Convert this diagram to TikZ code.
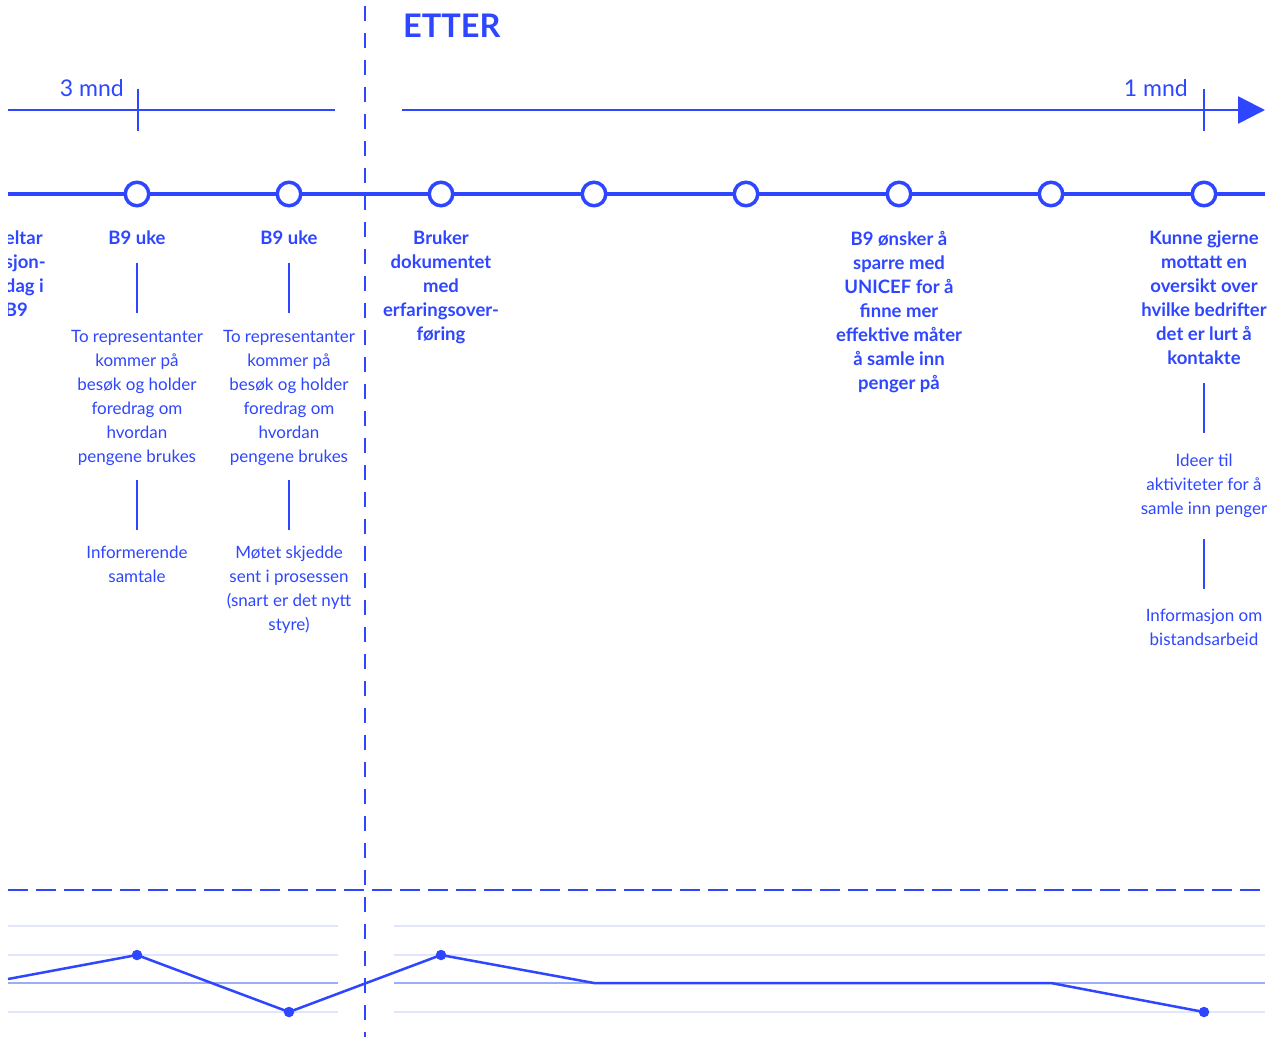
\documentclass[tikz,border=0pt]{standalone}
\usepackage{fontspec}
\setmainfont{Lato}
\usetikzlibrary{arrows.meta}
\definecolor{ink}{HTML}{2E46FF}
\definecolor{gridpale}{HTML}{E1E6FC}
\definecolor{gridmid}{HTML}{9DACF8}

\begin{document}
\begin{tikzpicture}[x=1pt,y=-1pt,
  txt/.style={text=ink, align=center, inner sep=0pt, outer sep=0pt, anchor=north,
    font=\fontsize{17}{24}\selectfont},
  btxt/.style={txt, font=\fontsize{18.5}{24}\selectfont\bfseries},
  conn/.style={draw=ink, line width=2pt},
  milestone/.style={circle, draw=ink, fill=white, line width=3.5pt,
    minimum size=23.5pt, inner sep=0pt},
  axis/.style={draw=ink, line width=2.5pt},
  tick/.style={draw=ink, line width=2.5pt},
  mainline/.style={draw=ink, line width=4pt},
  divider/.style={draw=ink, line width=2pt, dash pattern=on 15pt off 12pt},
  sepline/.style={draw=ink, line width=2.5pt, dash pattern=on 20pt off 8pt},
  gridline/.style={draw=gridpale, line width=1.5pt},
  gridmain/.style={draw=gridmid, line width=1.5pt},
  curve/.style={draw=ink, line width=2.5pt, line join=round},
  dot/.style={circle, fill=ink, inner sep=0pt, minimum size=10.5pt},
  scale label/.style={text=ink, inner sep=0pt, font=\fontsize{23}{23}\selectfont},
]
\useasboundingbox (0,0) rectangle (1281,1037);

% ---------- top scale ----------
\coordinate (ls) at (8,110);
\coordinate (le) at (335,110);
\coordinate (rs) at (402,110);
\coordinate (re) at (1265,110);
\draw[axis] (ls) -- (le);
\draw[axis, -{Triangle[length=27pt, width=27pt]}] (rs) -- (re);
\coordinate (t1a) at (138,89);  \coordinate (t1b) at (138,131);
\coordinate (t2a) at (1204,89); \coordinate (t2b) at (1204,131);
\draw[tick] (t1a) -- (t1b);
\draw[tick] (t2a) -- (t2b);
\node[scale label, anchor=base east] (m3) at (124,96) {3 mnd};
\node[scale label, anchor=base east] (m1) at (1188,96) {1 mnd};
\node[text=ink, inner sep=0pt, anchor=base west,
  font=\fontsize{32.5}{33}\selectfont\bfseries] (etter) at (403,37) {ETTER};

% ---------- main timeline ----------
\coordinate (tls) at (8,194);
\coordinate (tle) at (1265,194);
\draw[mainline] (tls) -- (tle);

% ---------- divider between before / after ----------
\coordinate (dv1) at (365,6);
\coordinate (dv2) at (365,1037);
\draw[divider] (dv1) -- (dv2);

\foreach \i/\x in {1/137,2/289,3/441,4/594,5/746,6/899,7/1051,8/1204}
  \node[milestone] (c\i) at (\x,194) {};

% ---------- labels ----------
\begin{scope}
  \clip (8,200) rectangle (120,340);
  \node[btxt, anchor=north west, align=left] (b0) at (5,231)
    {eltar\\sjon-\\dag i\\B9};
\end{scope}

\node[btxt] (b1) at (137,231) {B9 uke};
\node[btxt] (b2) at (289,231) {B9 uke};
\node[btxt] (b3) at (441,231) {Bruker\\dokumentet\\med\\erfaringsover-\\føring};
\node[btxt] (b6) at (899,231) {B9 ønsker å\\sparre med\\UNICEF for å\\finne mer\\effektive måter\\å samle inn\\penger på};
\node[btxt] (b8) at (1204,231) {Kunne gjerne\\mottatt en\\oversikt over\\hvilke bedrifter\\det er lurt å\\kontakte};

\node[txt] (r1) at (137,330) {To representanter\\kommer på\\besøk og holder\\foredrag om\\hvordan\\pengene brukes};
\node[txt] (r2) at (289,330) {To representanter\\kommer på\\besøk og holder\\foredrag om\\hvordan\\pengene brukes};
\node[txt] (s1) at (137,546) {Informerende\\samtale};
\node[txt] (s2) at (289,546) {Møtet skjedde\\sent i prosessen\\(snart er det nytt\\styre)};
\node[txt] (i1) at (1204,454) {Ideer til\\aktiviteter for å\\samle inn penger};
\node[txt] (i2) at (1204,609) {Informasjon om\\bistandsarbeid};

% ---------- connectors ----------
\draw[conn, shorten <=18pt, shorten >=17pt] (b1.south) -- (r1.north);
\draw[conn, shorten <=18pt, shorten >=17pt] (b2.south) -- (r2.north);
\draw[conn, shorten <=14.5pt, shorten >=16pt] (r1.south) -- (s1.north);
\draw[conn, shorten <=14.5pt, shorten >=16pt] (r2.south) -- (s2.north);
\draw[conn, shorten <=18pt, shorten >=21pt] (b8.south) -- (i1.north);
\draw[conn, shorten <=21.5pt, shorten >=20pt] (i1.south) -- (i2.north);

% ---------- lower chart ----------
\coordinate (sp1) at (8,890);
\coordinate (sp2) at (1265,890);
\draw[sepline] (sp1) -- (sp2);

\foreach \y/\s in {926/gridline,955/gridline,983/gridmain,1012/gridline} {
  \draw[\s] (8,\y) -- (338,\y);
  \draw[\s] (394,\y) -- (1265,\y);
}

\coordinate (p0) at (8,979);
\coordinate (p4) at (594,983);
\coordinate (p7) at (1051,983);
\node[dot] (d1) at (137,955) {};
\node[dot] (d2) at (289,1012) {};
\node[dot] (d3) at (441,955) {};
\node[dot] (d8) at (1204,1012) {};
\draw[curve] (p0) -- (d1.center) -- (d2.center) -- (d3.center) -- (p4) -- (p7) -- (d8.center);

\end{tikzpicture}
\end{document}
